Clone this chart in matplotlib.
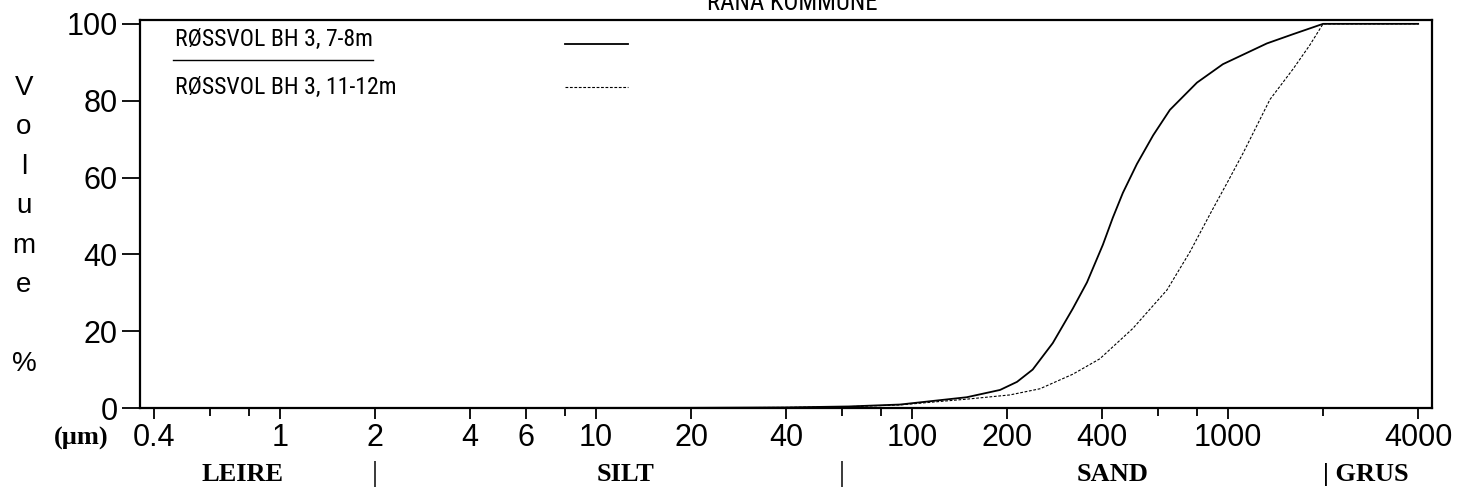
import numpy as np
import matplotlib
matplotlib.use("Agg")
import matplotlib.pyplot as plt
from matplotlib import font_manager
from matplotlib.ticker import FixedLocator, NullFormatter
import matplotlib.transforms as mtransforms

plt.rcParams['font.family'] = ['Liberation Sans', 'DejaVu Sans']

# look for a condensed sans face for title/legend (the original uses a narrow font)
narrow = None
prefs = ['LiberationSansNarrow-Regular', 'ArialNarrow', 'RobotoCondensed-Regular',
         'NotoSans-CondensedMedium', 'NotoSans-Condensed', 'OpenSans-CondensedRegular',
         'OpenSans_Condensed-Regular', 'DejaVuSansCondensed.']
paths = [f.fname for f in font_manager.fontManager.ttflist]
for p in prefs:
    hits = [x for x in paths if p.lower() in x.lower().replace(' ', '')]
    if hits:
        narrow = font_manager.FontProperties(fname=sorted(hits, key=len)[0])
        break
if narrow is None:
    narrow = font_manager.FontProperties(family='Liberation Sans')

# grain size (um) and cumulative volume (%)
size_a = [0.4, 2, 20, 40, 63, 91.6, 149, 190, 215, 241, 279, 323, 358, 402, 432,
          465, 515, 580, 655, 798, 964, 1328, 1606, 2000, 4000]
vol_a = [0, 0, 0.05, 0.15, 0.4, 0.9, 2.8, 4.7, 6.8, 10.0, 16.9, 25.9, 32.7, 42.5,
         49.5, 56.0, 63.5, 71.0, 77.6, 84.7, 89.5, 94.9, 97.3, 100, 100]

size_b = [0.4, 2, 20, 40, 63, 91.6, 149, 204, 254, 323, 393, 500, 641, 759, 878,
          1000, 1116, 1358, 1606, 1817, 2000, 4000]
vol_b = [0, 0, 0.05, 0.15, 0.35, 0.8, 2.3, 3.4, 5.0, 8.8, 12.8, 20.7, 30.7, 40.7,
         50.5, 59.0, 66.3, 80.3, 88.2, 94.5, 100, 100]

labels = ["RØSSVOL BH 3, 7-8m", "RØSSVOL BH 3, 11-12m"]

major_ticks = [0.4, 1, 2, 4, 6, 10, 20, 40, 100, 200, 400, 1000, 4000]
minor_ticks = [0.6, 0.8, 8, 60, 80, 600, 800, 2000]
yticks = [0, 20, 40, 60, 80, 100]

fractions = ["LEIRE", "SILT", "SAND"]
fraction_pos = [0.76, 12.4, 432]
bounds = [2, 60]
grus_bound = 2000

W, H = 1471, 494
fig = plt.figure(figsize=(W / 100, H / 100), dpi=100)
ax = fig.add_axes([140 / W, 1 - 408 / H, 1292 / W, 388 / H])

l1, = ax.plot(size_a, vol_a, color='black', lw=1.3)
l2, = ax.plot(size_b, vol_b, color='black', lw=0.8, dashes=(2.5, 1.5))

ax.set_xscale('log')
ax.set_xlim(0.3605, 4424)
ax.set_ylim(0, 101)

ax.xaxis.set_major_locator(FixedLocator(major_ticks))
ax.set_xticklabels([f"{t:g}" for t in major_ticks])
ax.xaxis.set_minor_locator(FixedLocator(minor_ticks))
ax.xaxis.set_minor_formatter(NullFormatter())
ax.set_yticks(yticks)

ax.tick_params(axis='x', which='major', direction='out', length=8, width=1.3,
               pad=3, labelsize=22)
ax.tick_params(axis='x', which='minor', direction='out', length=6, width=1.3)
ax.tick_params(axis='y', direction='out', length=13, width=1.3, pad=3, labelsize=22)
for s in ax.spines.values():
    s.set_linewidth(1.6)


def ax_xy(px, py):
    return (px - 140) / 1292, (408 - py) / 388


# legend: text left, sample line right, rule under first entry
renderer = fig.canvas.get_renderer()
texts = []
for lab, ty in zip(labels, [46, 94]):
    tx, tyy = ax_xy(175, ty)
    t = ax.text(tx, tyy, lab, transform=ax.transAxes, ha='left', va='baseline',
                fontproperties=narrow.copy())
    texts.append(t)
# size the narrow text so the first entry is about 198 px wide, as in the original
texts[0].set_fontsize(20)
w20 = texts[0].get_window_extent(renderer).width
nsize = 20 * 198 / w20
for t in texts:
    t.set_fontsize(nsize)

for line, ly in zip([l1, l2], [44, 87]):
    x0, yy = ax_xy(565, ly)
    x1, _ = ax_xy(628, ly)
    seg, = ax.plot([x0, x1], [yy, yy], transform=ax.transAxes, color='black',
                   lw=line.get_linewidth())
    if line is l2:
        seg.set_dashes((2.5, 1.5))
ux0, uy = ax_xy(173, 60)
ux1, _ = ax_xy(373, 60)
ax.plot([ux0, ux1], [uy, uy], color='black', lw=1.0, transform=ax.transAxes)

# title (cut off at top in original)
title_fp = narrow.copy()
title_fp.set_size(nsize * 1.05)
fig.text(792 / W, 1 - 10 / H, "RANA KOMMUNE", ha='center', va='baseline',
         fontproperties=title_fp)

# y label, one letter per line
letters = ["V", "o", "l", "u", "m", "e", "", "%"]
for i, ch in enumerate(letters):
    fig.text(24 / W, 1 - (88 + i * 39.4) / H, ch, ha='center', va='center',
             fontsize=20)

fig.text(81 / W, 1 - 438 / H, "(µm)", ha='center', va='center',
         fontsize=19, fontweight='bold', family='Liberation Serif')

trans = mtransforms.blended_transform_factory(ax.transData, fig.transFigure)
yb = 1 - 474 / H
for name, xp in zip(fractions, fraction_pos):
    ax.text(xp, yb, name, transform=trans, ha='center', va='center',
            fontsize=19, fontweight='bold', family='Liberation Serif')
for b in bounds:
    ax.text(b, yb, "|", transform=trans, ha='center', va='center', fontsize=21,
            family='Liberation Serif')
ax.text(grus_bound, yb, "| GRUS", transform=trans, ha='left', va='center',
        fontsize=19, fontweight='bold', family='Liberation Serif')

fig.savefig("out.png", dpi=100)
